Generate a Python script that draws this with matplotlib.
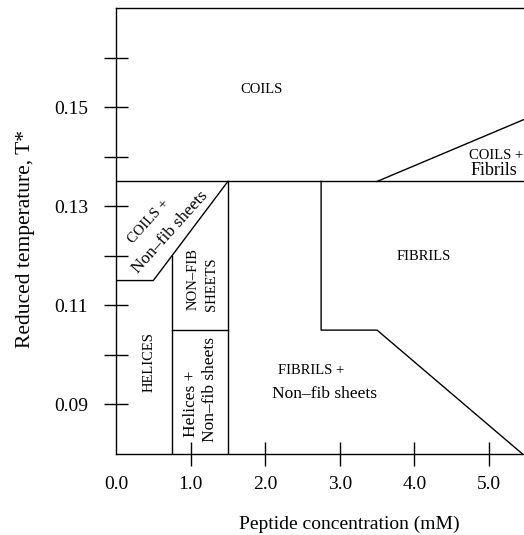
import matplotlib
matplotlib.use("Agg")
import matplotlib.pyplot as plt
from matplotlib.ticker import FixedLocator

plt.rcParams["font.family"] = ["Liberation Serif", "DejaVu Serif"]

# ---- phase boundaries (concentration mM, reduced temperature T*) ----
top_x = [0.0, 5.47]
top_y = [0.135, 0.135]
coils_fib_x = [3.5, 5.47]
coils_fib_y = [0.135, 0.1475]
coils_sheet_x = [0.0, 0.5, 1.5]
coils_sheet_y = [0.115, 0.115, 0.135]
helix_x = [0.75, 0.75]
helix_y = [0.08, 0.12]
sheet_x = [1.5, 1.5]
sheet_y = [0.08, 0.135]
helix_sheet_x = [0.75, 1.5]
helix_sheet_y = [0.105, 0.105]
fibril_x = [2.75, 2.75, 3.5, 5.45]
fibril_y = [0.135, 0.105, 0.105, 0.08]

xticks = [0, 1, 2, 3, 4, 5]
xtick_labels = ["0.0", "1.0", "2.0", "3.0", "4.0", "5.0"]
yticks = [0.09, 0.11, 0.13, 0.15]
ytick_labels = ["0.09", "0.11", "0.13", "0.15"]
yminor = [0.10, 0.12, 0.14, 0.16]

# region labels: (text, x, y, size, rotation)
labels = [
    ("COILS", 1.95, 0.1536, 10.5, 0),
    ("FIBRILS", 4.12, 0.1199, 10.5, 0),
    ("FIBRILS +", 2.61, 0.0969, 10.5, 0),
    ("Non\u2013fib sheets", 2.79, 0.0922, 12.5, 0),
    ("COILS +", 0.43, 0.1270, 10.5, 48),
    ("Non\u2013fib sheets", 0.72, 0.1248, 12.5, 48),
    ("NON\u2013FIB", 1.03, 0.1154, 10.5, 90),
    ("SHEETS", 1.28, 0.1142, 10.5, 90),
    ("HELICES", 0.44, 0.0986, 10.5, 90),
    ("Helices +", 1.01, 0.0901, 12.5, 90),
    ("Non\u2013fib sheets", 1.255, 0.0930, 12.5, 90),
]
# the small wedge on the right, set on baselines
wedge_labels = [
    ("COILS +", 4.73, 0.1396, 10.5),
    ("Fibrils", 4.75, 0.1362, 13),
]

fig = plt.figure(figsize=(5.24, 5.35), dpi=100)
ax = fig.add_axes([116 / 524, 81 / 535, 408 / 524, 446 / 535])

lw = 1.0
for xs, ys in [(top_x, top_y), (coils_fib_x, coils_fib_y),
               (coils_sheet_x, coils_sheet_y), (helix_x, helix_y),
               (sheet_x, sheet_y), (helix_sheet_x, helix_sheet_y),
               (fibril_x, fibril_y)]:
    ax.plot(xs, ys, color="black", lw=lw)

for txt, x, y, size, rot in labels:
    ax.text(x, y, txt, fontsize=size, rotation=rot, ha="center", va="center")
for txt, x, y, size in wedge_labels:
    ax.text(x, y, txt, fontsize=size, ha="left", va="baseline")

ax.set_xlim(0, 5.47)
ax.set_ylim(0.08, 0.17)
ax.spines["right"].set_visible(False)
for s in ["left", "bottom", "top"]:
    ax.spines[s].set_linewidth(lw)

ax.set_xticks(xticks)
ax.set_xticklabels(xtick_labels)
ax.set_yticks(yticks)
ax.set_yticklabels(ytick_labels)
ax.yaxis.set_minor_locator(FixedLocator(yminor))
ax.tick_params(axis="both", which="both", direction="inout", length=17,
               width=1.0, labelsize=14, top=False, right=False)
ax.tick_params(axis="y", which="major", pad=11.5)
ax.tick_params(axis="x", which="major", pad=7)
ax.xaxis.get_major_ticks()[0].tick1line.set_visible(False)

ax.set_xlabel("Peptide concentration (mM)", fontsize=14)
ax.set_ylabel("Reduced temperature, T*", fontsize=15.5)
ax.xaxis.set_label_coords(0.571, -0.157)
ax.xaxis.label.set_va("center")
ax.yaxis.set_label_coords(-0.221, 0.482)
ax.yaxis.label.set_va("center")

plt.savefig("out.png", dpi=100)
